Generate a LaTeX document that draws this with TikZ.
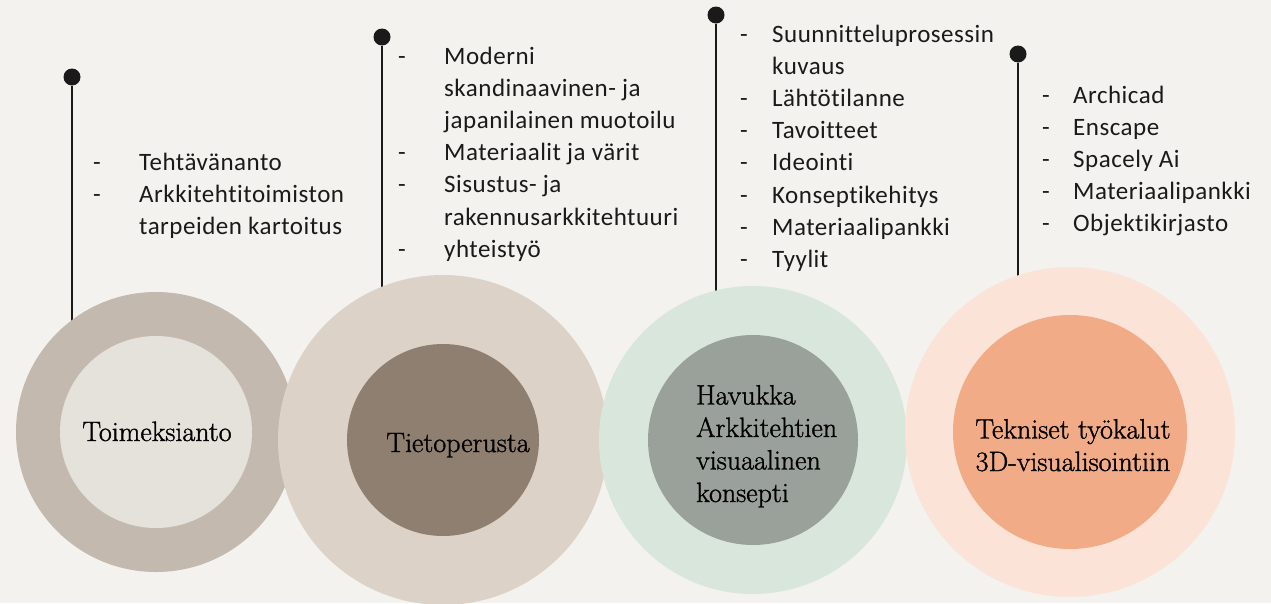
\documentclass[tikz,border=0pt]{standalone}
\usepackage{fontspec}
\newfontfamily\listfont[Ligatures={NoCommon},LetterSpace=2]{Carlito}
\newfontfamily\titlefont[FakeBold=1.2]{Latin Modern Roman}
\definecolor{bg}{HTML}{F3F2EE}
\definecolor{oA}{HTML}{C4B9AF}\definecolor{iA}{HTML}{E5E2DC}
\definecolor{oB}{HTML}{DDD2C8}\definecolor{iB}{HTML}{8E7F70}
\definecolor{oC}{HTML}{D9E6DC}\definecolor{iC}{HTML}{9AA19A}
\definecolor{oD}{HTML}{FBE3D7}\definecolor{iD}{HTML}{F1AB86}
\definecolor{ink}{HTML}{1A1A1A}
\begin{document}
\begin{tikzpicture}[x=1pt,y=-1pt,
  disc/.style={circle,inner sep=0pt,draw=none},
  pin/.style={circle,fill=ink,inner sep=0pt,minimum size=17pt},
  stem/.style={draw=ink,line width=1.4pt},
  title/.style={inner sep=0pt,font=\titlefont\fontsize{28}{32.5}\selectfont,text=black},
  items/.style={inner sep=0pt,anchor=base west,font=\listfont\fontsize{25}{32.2}\selectfont,text=ink}]
\fill[bg] (0,0) rectangle (1271,603);
\useasboundingbox (0,0) rectangle (1271,603);
% pins
\node[pin] (p1) at (72,77) {};
\node[pin] (p2) at (382,37) {};
\node[pin] (p3) at (716,15) {};
\node[pin] (p4) at (1018,54) {};
% circle centres
\coordinate (k1) at (156,432);
\coordinate (k2) at (443,440);
\coordinate (k3) at (753,440);
\coordinate (k4) at (1070,432);
\draw[stem] (p1) -- (p1 |- k1);
\draw[stem] (p2) -- (p2 |- k2);
\draw[stem] (p3) -- (p3 |- k3);
\draw[stem] (p4) -- (p4 |- k4);
% circles
\node[disc,fill=oA,minimum size=280pt] (o1) at (k1) {};
\node[disc,fill=iA,minimum size=192pt] (i1) at (k1) {};
\node[disc,fill=oB,minimum size=330pt] (o2) at (k2) {};
\node[disc,fill=iB,minimum size=192pt] (i2) at (k2) {};
\node[disc,fill=oC,minimum size=308pt] (o3) at (k3) {};
\node[disc,fill=iC,minimum size=210pt] (i3) at (k3) {};
\node[disc,fill=oD,minimum size=330pt] (o4) at (k4) {};
\node[disc,fill=iD,minimum size=234pt] (i4) at (k4) {};
% titles (base anchor = last line)
\node[title,anchor=base] (t1) at (157,441) {Toimeksianto};
\node[title,anchor=base] (t2) at (458,452) {Tietoperusta};
\node[title,anchor=base west,align=left] (t3) at (696,502) {Havukka\\Arkkitehtien\\visuaalinen\\konsepti};
\node[title,anchor=base,align=center] (t4) at (1073,471) {Tekniset työkalut\\3D-visualisointiin};
% lists
\node[items] (l1) at (93,170) {\begin{tabular}[t]{@{}p{46pt}@{}l@{}}-&Tehtävänanto\\-&Arkkitehtitoimiston\\&tarpeiden kartoitus\end{tabular}};
\node[items] (l2) at (398,64) {\begin{tabular}[t]{@{}p{46pt}@{}l@{}}-&Moderni\\&skandinaavinen- ja\\&japanilainen muotoilu\\-&Materiaalit ja värit\\-&Sisustus- ja\\&rakennusarkkitehtuuri\\-&yhteistyö\end{tabular}};
\node[items] (l3) at (740,42) {\begin{tabular}[t]{@{}p{32pt}@{}l@{}}-&Suunnitteluprosessin\\&kuvaus\\-&Lähtötilanne\\-&Tavoitteet\\-&Ideointi\\-&Konseptikehitys\\-&Materiaalipankki\\-&Tyylit\end{tabular}};
\node[items] (l4) at (1042,103) {\begin{tabular}[t]{@{}p{31pt}@{}l@{}}-&Archicad\\-&Enscape\\-&Spacely Ai\\-&Materiaalipankki\\-&Objektikirjasto\end{tabular}};
\end{tikzpicture}
\end{document}
